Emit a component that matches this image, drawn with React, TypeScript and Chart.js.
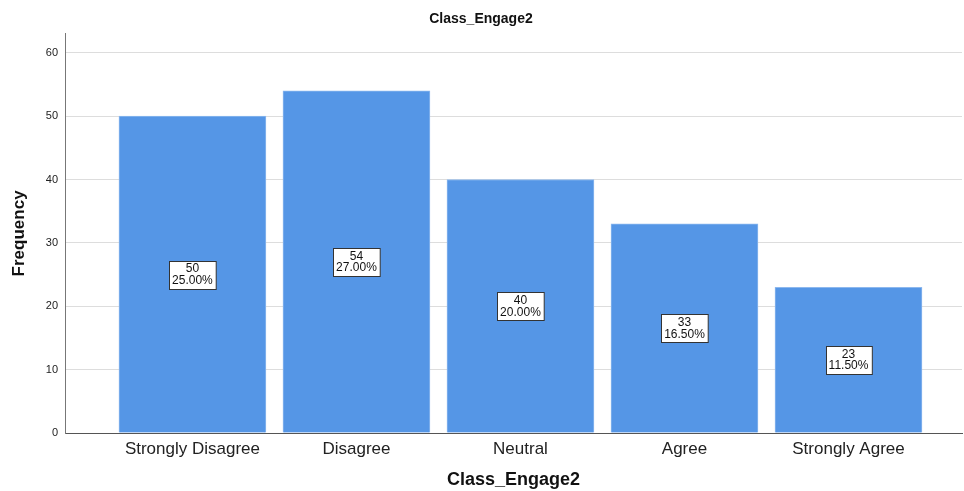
import React, { useEffect, useRef } from "react";
import { Chart, registerables } from "chart.js";

Chart.register(...registerables);

const categories = ["Strongly Disagree", "Disagree", "Neutral", "Agree", "Strongly Agree"];
const frequencies = [50, 54, 40, 33, 23];
const percents = ["25.00%", "27.00%", "20.00%", "16.50%", "11.50%"];
const yTicks = [0, 10, 20, 30, 40, 50, 60];

const FONT = "'Liberation Sans', Arial, sans-serif";

const labelBoxPlugin = {
  id: "labelBoxes",
  afterDatasetsDraw(chart: any) {
    const { ctx } = chart;
    const meta = chart.getDatasetMeta(0);
    const yScale = chart.scales.y;
    ctx.save();
    ctx.font = "12px " + FONT;
    meta.data.forEach((bar: any, i: number) => {
      const v = frequencies[i];
      const cx = bar.x;
      const cy = yScale.getPixelForValue(v / 2);
      const l1 = String(v);
      const l2 = percents[i];
      const w = Math.max(ctx.measureText(l1).width, ctx.measureText(l2).width) + 6;
      const h = 28;
      const x0 = Math.round(cx - w / 2) + 0.5;
      const y0 = Math.round(cy - h / 2) + 0.5;
      ctx.fillStyle = "#ffffff";
      ctx.fillRect(x0, y0, w, h);
      ctx.strokeStyle = "#333333";
      ctx.lineWidth = 1;
      ctx.strokeRect(x0, y0, w, h);
      ctx.fillStyle = "#111111";
      ctx.textAlign = "center";
      ctx.textBaseline = "middle";
      ctx.fillText(l1, cx, cy - 5.5);
      ctx.fillText(l2, cx, cy + 6);
    });
    ctx.restore();
  },
};

export default function App() {
  const ref = useRef<HTMLCanvasElement>(null);
  useEffect(() => {
    const canvas = ref.current;
    if (!canvas) return;
    const chart = new Chart(canvas, {
      type: "bar",
      data: {
        datasets: [
          {
            data: frequencies.map((v, i) => ({ x: i, y: v })),
            backgroundColor: "#5596E6",
            borderColor: "#8DB8EE",
            borderWidth: 1,
            barThickness: 147,
          },
        ],
      },
      plugins: [labelBoxPlugin],
      options: {
        animation: false,
        responsive: false,
        maintainAspectRatio: false,
        layout: { padding: { left: 0, right: 2, top: 0, bottom: 0 } },
        plugins: {
          legend: { display: false },
          tooltip: { enabled: false },
          title: {
            display: true,
            text: "Class_Engage2",
            color: "#111111",
            font: { family: FONT, size: 14, weight: "bold" },
            padding: { top: 11, bottom: 6 },
          },
        },
        scales: {
          x: {
            type: "linear",
            min: -0.777,
            max: 4.692,
            offset: false,
            afterFit(scale: any) {
              scale.height = 58;
            },
            afterBuildTicks(scale: any) {
              scale.ticks = categories.map((_, i) => ({ value: i }));
            },
            ticks: {
              stepSize: 1,
              includeBounds: false,
              autoSkip: false,
              maxRotation: 0,
              padding: 6,
              color: "#222222",
              font: { family: FONT, size: 17 },
              callback: (v: any) => categories[v as number] ?? "",
            },
            grid: { display: false, drawTicks: false },
            border: { display: true, color: "#555555", width: 1 },
            title: {
              display: true,
              text: "Class_Engage2",
              color: "#111111",
              font: { family: FONT, size: 18, weight: "bold" },
              padding: { top: 0, bottom: 0 },
            },
          },
          y: {
            min: 0,
            max: 63,
            afterFit(scale: any) {
              scale.width = 65;
            },
            afterBuildTicks(scale: any) {
              scale.ticks = yTicks.map((v) => ({ value: v }));
            },
            ticks: {
              padding: 7,
              color: "#222222",
              font: { family: FONT, size: 11 },
            },
            grid: { color: "#dddddd", drawTicks: false },
            border: { display: true, color: "#777777", width: 1 },
            title: {
              display: true,
              text: "Frequency",
              color: "#111111",
              font: { family: FONT, size: 17, weight: "bold" },
              padding: { top: 9, bottom: 4 },
            },
          },
        },
      } as any,
    });
    return () => chart.destroy();
  }, []);
  return (
    <div style={{ position: "fixed", left: 0, top: 0, width: 964, height: 491, background: "#fff" }}>
      <canvas ref={ref} width={964} height={491} style={{ display: "block", width: 964, height: 491 }} />
    </div>
  );
}
